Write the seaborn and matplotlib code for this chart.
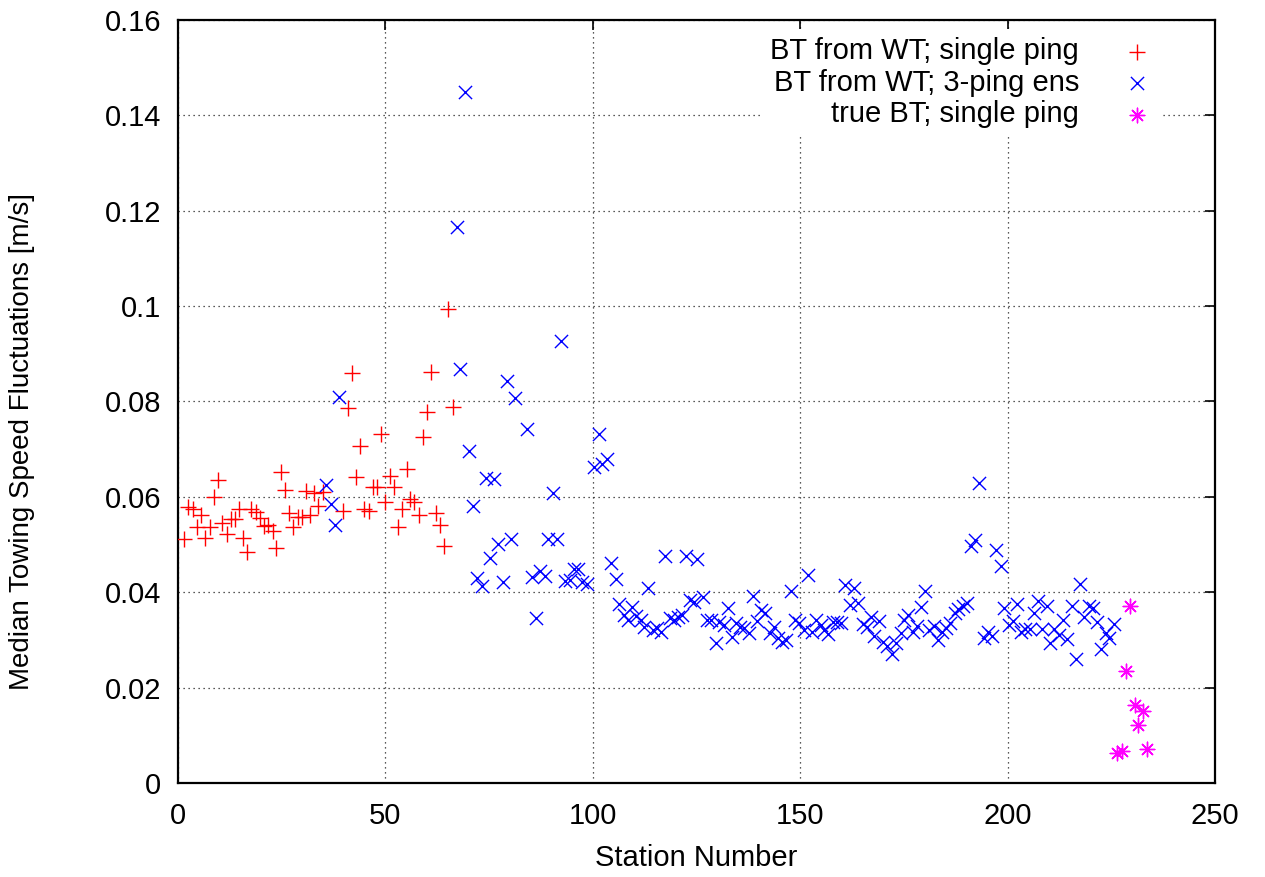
import matplotlib
matplotlib.use("Agg")
import matplotlib.pyplot as plt
import seaborn as sns
import pandas as pd

# ---- data ----
red_x = [1.5, 2.5, 3.6, 4.6, 5.6, 6.6, 7.7, 8.6, 9.7, 10.7, 11.7, 12.8, 13.7, 14.7,
         15.7, 16.7, 17.7, 18.8, 19.7, 20.8, 21.7, 22.8, 23.7, 24.8, 25.8, 26.8,
         27.8, 28.9, 29.8, 30.8, 31.8, 32.8, 33.8, 34.9,
         39.9, 40.9, 41.9, 42.9, 43.9, 44.9, 46.0, 47.0, 47.9, 49.0, 50.0, 51.0,
         52.0, 53.0, 54.0, 55.1, 56.0, 57.0, 58.1, 59.1, 60.1, 61.1, 62.1, 63.1,
         64.2, 65.1, 66.2]
red_y = [0.0512, 0.0579, 0.0574, 0.0537, 0.0562, 0.0514, 0.0536, 0.0599, 0.0635,
         0.0545, 0.0523, 0.0553, 0.0554, 0.0574, 0.0514, 0.0484, 0.0574, 0.0568,
         0.0556, 0.0539, 0.0542, 0.0528, 0.0493, 0.0652, 0.0614, 0.0566, 0.0536,
         0.0557, 0.0557, 0.0612, 0.0561, 0.0608, 0.0581, 0.0610,
         0.0571, 0.0786, 0.0860, 0.0642, 0.0707, 0.0575, 0.0571, 0.0621, 0.0621,
         0.0731, 0.0590, 0.0644, 0.0621, 0.0536, 0.0574, 0.0658, 0.0596, 0.0590,
         0.0562, 0.0726, 0.0777, 0.0862, 0.0567, 0.0542, 0.0497, 0.0995, 0.0788]

blue_x = [35.8, 36.8, 37.9, 38.9,
          67.2, 68.1, 69.2, 70.2, 71.1, 72.2, 73.2, 74.3, 75.2, 76.3, 77.1, 78.3,
          79.2, 80.3, 81.2, 84.2, 85.3, 86.3, 87.3, 88.5, 89.2, 90.4, 91.4, 92.4,
          93.4, 94.4, 95.4, 96.4, 97.4, 98.5, 100.2, 101.4, 102.2, 103.4, 104.3,
          105.5, 106.4, 107.5, 108.4, 109.5, 110.4, 111.5, 112.4, 113.4, 114.5,
          115.5, 116.5, 117.5, 118.5, 119.5, 120.5, 121.5, 122.5, 123.5, 124.5,
          125.2, 126.5, 127.6, 128.6, 129.6, 130.5, 131.6, 132.5, 133.6, 134.6,
          135.6, 136.5, 137.6, 138.6, 139.6, 140.6, 141.6, 142.6, 143.6, 144.6,
          145.6, 146.6, 147.8, 148.8, 149.8, 150.9, 151.8, 152.9, 153.8, 154.9,
          155.8, 156.8, 157.9, 158.9, 159.9, 160.9, 161.9, 162.9, 164.0, 165.1,
          166.1, 167.1, 167.9, 169.1, 169.9, 170.9, 172.1, 173.1, 174.2, 175.1,
          176.1, 177.1, 178.2, 179.1, 180.1, 181.1, 182.2, 183.2, 184.1, 185.2,
          186.2, 187.2, 188.1, 189.2, 190.2, 191.2, 192.2, 193.2, 194.3, 195.2,
          196.3, 197.2, 198.3, 199.2, 200.3, 201.4, 202.3, 203.3, 204.3, 205.3,
          206.3, 207.3, 208.3, 209.4, 210.3, 211.3, 212.3, 213.3, 214.3, 215.5,
          216.5, 217.5, 218.5, 219.6, 220.5, 221.6, 222.5, 223.6, 224.5, 225.6]
blue_y = [0.0624, 0.0585, 0.0541, 0.0809,
          0.1166, 0.0868, 0.1450, 0.0697, 0.0581, 0.0430, 0.0414, 0.0640, 0.0472,
          0.0638, 0.0501, 0.0421, 0.0844, 0.0512, 0.0808, 0.0743, 0.0432, 0.0346,
          0.0445, 0.0434, 0.0512, 0.0608, 0.0512, 0.0927, 0.0423, 0.0425, 0.0449,
          0.0448, 0.0421, 0.0418, 0.0662, 0.0732, 0.0668, 0.0679, 0.0462, 0.0427,
          0.0375, 0.0352, 0.0342, 0.0368, 0.0350, 0.0342, 0.0328, 0.0409, 0.0321,
          0.0324, 0.0317, 0.0477, 0.0345, 0.0342, 0.0348, 0.0352, 0.0475, 0.0384,
          0.0380, 0.0469, 0.0391, 0.0342, 0.0342, 0.0293, 0.0338, 0.0331, 0.0366,
          0.0307, 0.0335, 0.0328, 0.0324, 0.0314, 0.0392, 0.0340, 0.0363, 0.0356,
          0.0314, 0.0328, 0.0303, 0.0296, 0.0300, 0.0403, 0.0342, 0.0335, 0.0321,
          0.0436, 0.0317, 0.0342, 0.0331, 0.0321, 0.0312, 0.0338, 0.0338, 0.0335,
          0.0415, 0.0373, 0.0408, 0.0377, 0.0333, 0.0328, 0.0349, 0.0308, 0.0340,
          0.0296, 0.0287, 0.0270, 0.0293, 0.0314, 0.0342, 0.0352, 0.0317, 0.0330,
          0.0368, 0.0403, 0.0321, 0.0330, 0.0300, 0.0317, 0.0324, 0.0336, 0.0356,
          0.0364, 0.0371, 0.0377, 0.0496, 0.0510, 0.0630, 0.0303, 0.0317, 0.0308,
          0.0489, 0.0456, 0.0366, 0.0331, 0.0340, 0.0375, 0.0317, 0.0322, 0.0322,
          0.0356, 0.0382, 0.0322, 0.0371, 0.0293, 0.0322, 0.0310, 0.0342, 0.0301,
          0.0371, 0.0261, 0.0417, 0.0349, 0.0371, 0.0366, 0.0338, 0.0282, 0.0314,
          0.0303, 0.0333]

mag_x = [226.4, 227.6, 228.6, 229.4, 230.6, 231.5, 232.6, 233.6]
mag_y = [0.0062, 0.0067, 0.0235, 0.0371, 0.0164, 0.0122, 0.0150, 0.0071]

labels = ["BT from WT; single ping", "BT from WT; 3-ping ens", "true BT; single ping"]
xticks = [0, 50, 100, 150, 200, 250]
yticks = [0, 0.02, 0.04, 0.06, 0.08, 0.10, 0.12, 0.14, 0.16]
ytick_labels = ["0", "0.02", "0.04", "0.06", "0.08", "0.1", "0.12", "0.14", "0.16"]

df_red = pd.DataFrame({"station": red_x, "value": red_y})
df_blue = pd.DataFrame({"station": blue_x, "value": blue_y})
df_mag = pd.DataFrame({"station": mag_x, "value": mag_y})

sns.set_theme(style="white")
plt.rcParams["font.family"] = ["Liberation Sans", "DejaVu Sans"]
plt.rcParams["text.color"] = "black"
plt.rcParams["axes.labelcolor"] = "black"
plt.rcParams["xtick.color"] = "black"
plt.rcParams["ytick.color"] = "black"

fig = plt.figure(figsize=(12.65, 8.77), dpi=100)
ax = fig.add_axes([0.1407, 0.1072, 0.8198, 0.8700])

sns.scatterplot(data=df_red, x="station", y="value", marker="+", color="#ff0000",
                s=130, linewidth=1.0, label=labels[0], ax=ax, zorder=3)
sns.scatterplot(data=df_blue, x="station", y="value", marker="x", color="#0000ff",
                s=90, linewidth=1.0, label=labels[1], ax=ax, zorder=3)
sns.scatterplot(data=df_mag, x="station", y="value", marker=(8, 2, 0), color="#ff00ff",
                s=110, linewidth=1.0, label=labels[2], ax=ax, zorder=3)

ax.set_xlim(0, 250)
ax.set_ylim(0, 0.16)
ax.set_xticks(xticks)
ax.set_xticklabels([str(t) for t in xticks])
ax.set_yticks(yticks)
ax.set_yticklabels(ytick_labels)

ax.grid(True, color="#222222", linestyle=(0, (1, 3)), linewidth=0.9)
ax.set_axisbelow(True)

for sp in ax.spines.values():
    sp.set_color("black")
    sp.set_linewidth(1.6)
    sp.set_visible(True)

ax.tick_params(axis="both", which="major", direction="in", length=7, width=1.2,
               labelsize=21, colors="black", labelcolor="black", top=True, right=True)
ax.tick_params(axis="x", pad=14)
ax.tick_params(axis="y", pad=12)

ax.set_xlabel("Station Number", fontsize=21, labelpad=10, color="black")
ax.set_ylabel("Median Towing Speed Fluctuations [m/s]", fontsize=20, color="black")
ax.yaxis.set_label_coords(-0.138, 0.447)

leg = ax.legend(loc="upper right", bbox_to_anchor=(0.956, 1.0), markerfirst=False,
                fontsize=21, frameon=True, facecolor="white", edgecolor="none",
                framealpha=1.0, fancybox=False, handletextpad=1.5, handlelength=1.0,
                labelspacing=0.12, borderpad=0.3, borderaxespad=0.3)
for t in leg.get_texts():
    t.set_color("black")
leg.set_zorder(2.5)

fig.savefig("out.png", dpi=100)
